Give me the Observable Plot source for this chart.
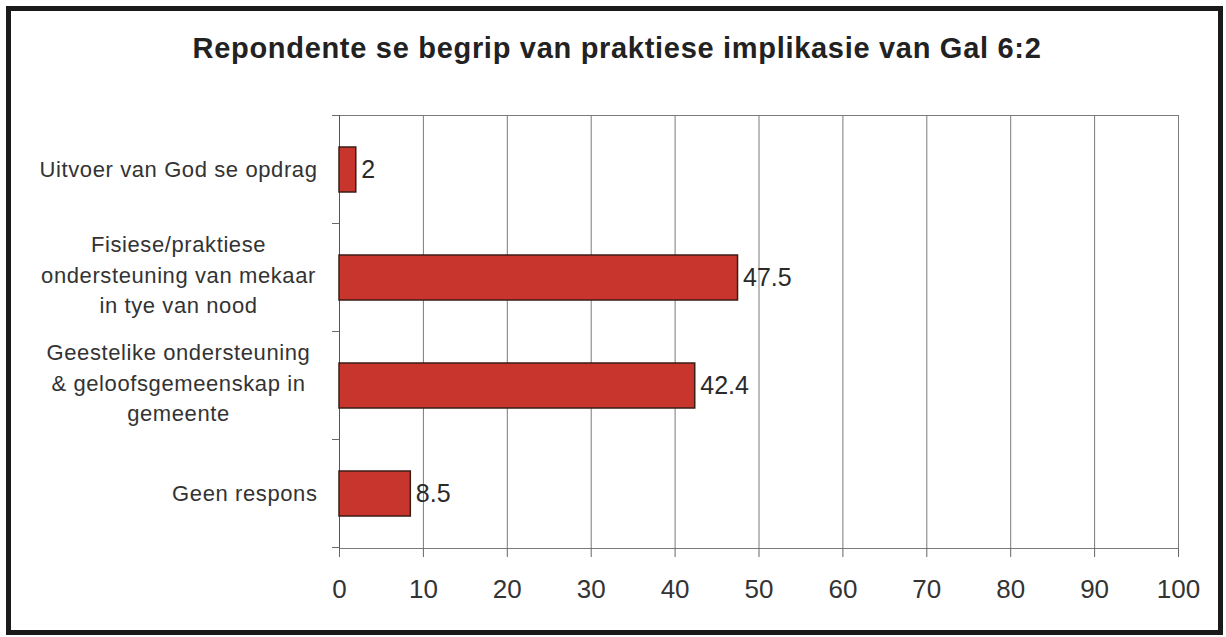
<!DOCTYPE html>
<html>
<head>
<meta charset="utf-8">
<script src="https://cdn.jsdelivr.net/npm/d3@7"></script>
<script src="https://cdn.jsdelivr.net/npm/@observablehq/plot@0.6"></script>
<style>
  html, body { margin: 0; padding: 0; background: #fff; }
  #wrap { position: relative; width: 1226px; height: 637px; overflow: hidden; font-family: "Liberation Sans", Arial, sans-serif; }
  #frame { position: absolute; left: 6px; top: 6px; width: 1217px; height: 629px; box-sizing: border-box; border: 5px solid #1a1a1a; pointer-events: none; }
  #title { position: absolute; left: 0; top: 34px; width: 1226px; padding-left: 8px; box-sizing: border-box; text-align: center; font-size: 29px; line-height: 29px; font-weight: bold; letter-spacing: 0.7px; color: #222; }
  #chart { position: absolute; left: 0; top: 0; }
  .cat text { letter-spacing: 0.6px; }
</style>
</head>
<body>
<div id="wrap">
  <div id="chart"></div>
  <div id="title">Repondente se begrip van praktiese implikasie van Gal 6:2</div>
  <div id="frame"></div>
</div>
<script>
const categories = [
  "Uitvoer van God se opdrag",
  "Fisiese/praktiese\nondersteuning van mekaar\nin tye van nood",
  "Geestelike ondersteuning\n& geloofsgemeenskap in\ngemeente",
  "Geen respons"
];
const values = [2, 47.5, 42.4, 8.5];
const xTicks = [0, 10, 20, 30, 40, 50, 60, 70, 80, 90, 100];

const data = categories.map((c, i) => ({category: c, value: values[i]}));
const singleLine = categories.filter(c => !c.includes("\n"));
const multiLine = categories.filter(c => c.includes("\n"));

function boundaryTicks() {
  return (index, scales, vals, dimensions) => {
    const y = scales.y;
    let bw, step;
    if (typeof y.bandwidth === "function") { bw = y.bandwidth(); step = y.step(); }
    else { bw = scales.scales.y.bandwidth; step = scales.scales.y.step; }
    const half = (step - bw) / 2;
    const ys = categories.map(c => y(c) - half);
    ys.push(y(categories[categories.length - 1]) + bw + half);
    const x0 = dimensions.marginLeft;
    const g = d3.create("svg:g");
    g.selectAll("line").data(ys).join("line")
      .attr("x1", x0 - 7).attr("x2", x0)
      .attr("y1", d => d).attr("y2", d => d)
      .attr("stroke", "#6a6a6a").attr("stroke-width", 1);
    return g.node();
  };
}

const chart = Plot.plot({
  width: 1226,
  height: 637,
  marginLeft: 339,
  marginRight: 48,
  marginTop: 115,
  marginBottom: 89,
  style: { fontFamily: "'Liberation Sans', Arial, sans-serif", background: "transparent", color: "#333" },
  x: { domain: [0, 100], ticks: xTicks },
  y: { domain: categories, paddingInner: 0.58, paddingOuter: 0.29 },
  marks: [
    Plot.gridX(xTicks, { stroke: "#7a7a7a", strokeOpacity: 1 }),
    Plot.frame({ stroke: "#7a7a7a" }),
    Plot.ruleX([0], { stroke: "#555" }),
    boundaryTicks(),
    Plot.barX(data, { x: "value", y: "category", fill: "#c8352c", stroke: "#3a1c14", strokeWidth: 1.5 }),
    Plot.text(data, { x: "value", y: "category", text: d => String(d.value), textAnchor: "start", dx: 5, fontSize: 25, fill: "#2a2a2a" }),
    Plot.axisX(xTicks, { tickSize: 9, tickPadding: 22, fontSize: 26, stroke: "#666", fill: "#333", label: null }),
    Plot.axisY(singleLine, { tickSize: 0, tickPadding: 22, fontSize: 22, fill: "#333", label: null, className: "cat" }),
    Plot.axisY(multiLine, { tickSize: 0, tickPadding: 22, fontSize: 22, fill: "#333", label: null, textAnchor: "middle", dx: -139, dy: -5, lineHeight: 1.38, className: "cat" })
  ]
});
document.getElementById("chart").appendChild(chart);
</script>
</body>
</html>
